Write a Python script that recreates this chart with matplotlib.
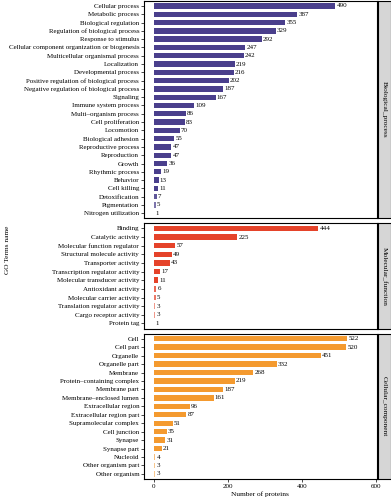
import matplotlib
matplotlib.use('Agg')
import matplotlib.pyplot as plt

plt.rcParams['font.family'] = ['Liberation Serif', 'DejaVu Serif']

# GO 分类数据
bp_terms = ['Cellular process', 'Metabolic process', 'Biological regulation',
            'Regulation of biological process', 'Response to stimulus',
            'Cellular component organization or biogenesis',
            'Multicellular organismal process', 'Localization',
            'Developmental process', 'Positive regulation of biological process',
            'Negative regulation of biological process', 'Signaling',
            'Immune system process', 'Multi\u2013organism process',
            'Cell proliferation', 'Locomotion', 'Biological adhesion',
            'Reproductive process', 'Reproduction', 'Growth', 'Rhythmic process',
            'Behavior', 'Cell killing', 'Detoxification', 'Pigmentation',
            'Nitrogen utilization']
bp_counts = [490, 387, 355, 329, 292, 247, 242, 219, 216, 202, 187, 167,
             109, 86, 83, 70, 55, 47, 47, 36, 19, 13, 11, 7, 5, 1]

mf_terms = ['Binding', 'Catalytic activity', 'Molecular function regulator',
            'Structural molecule activity', 'Transporter activity',
            'Transcription regulator activity', 'Molecular transducer activity',
            'Antioxidant activity', 'Molecular carrier activity',
            'Translation regulator activity', 'Cargo receptor activity',
            'Protein tag']
mf_counts = [444, 225, 57, 49, 43, 17, 11, 6, 5, 3, 3, 1]

cc_terms = ['Cell', 'Cell part', 'Organelle', 'Organelle part', 'Membrane',
            'Protein\u2013containing complex', 'Membrane part',
            'Membrane\u2013enclosed lumen', 'Extracellular region',
            'Extracellular region part', 'Supramolecular complex',
            'Cell junction', 'Synapse', 'Synapse part', 'Nucleoid',
            'Other organism part', 'Other organism']
cc_counts = [522, 520, 451, 332, 268, 219, 187, 161, 96, 87, 51, 35, 31, 21,
             4, 3, 3]

groups = [
    ('Biological_process', bp_terms, bp_counts, '#4a3f8c'),
    ('Molecular_function', mf_terms, mf_counts, '#e5432a'),
    ('Cellular_component', cc_terms, cc_counts, '#f49a2f'),
]

W, H = 391, 500
fig = plt.figure(figsize=(W / 100, H / 100), dpi=100)

left_px, right_px = 144, 376.7
strip_l, strip_r = 378, 390.5
top_px, bottom_px = 1, 479
gap = 5
units = [len(g[1]) + 1.2 for g in groups]
px_per_unit = (bottom_px - top_px - gap * (len(groups) - 1)) / sum(units)

fs = 5.0
y0 = top_px
for (name, terms, counts, color), u in zip(groups, units):
    h = u * px_per_unit
    ax = fig.add_axes([left_px / W, 1 - (y0 + h) / H,
                       (right_px - left_px) / W, h / H])
    pos = list(range(len(terms)))
    alphas = [min(1.0, 0.3 + c / 12) for c in counts]
    for p, c, a in zip(pos, counts, alphas):
        ax.barh(p, c, height=0.64, color=color, alpha=a)
        ax.text(c + 3, p, str(c), va='center', ha='left', fontsize=fs)
    ax.set_ylim(len(terms) - 0.4, -0.6)
    ax.set_xlim(-27, 602)
    ax.set_yticks(pos)
    ax.set_yticklabels(terms, fontsize=fs)
    ax.set_xticks([0, 200, 400, 600])
    ax.tick_params(axis='both', length=2, width=0.5, pad=1.5, labelsize=fs)
    for s in ax.spines.values():
        s.set_linewidth(0.8)
    if name != 'Cellular_component':
        ax.tick_params(axis='x', labelbottom=False, length=0)
    else:
        ax.set_xlabel('Number of proteins', fontsize=fs + 0.3, labelpad=2)

    # 右侧分面标签
    sax = fig.add_axes([strip_l / W, 1 - (y0 + h) / H,
                        (strip_r - strip_l) / W, h / H])
    sax.set_facecolor('#d6d6d6')
    sax.set_xticks([])
    sax.set_yticks([])
    for s in sax.spines.values():
        s.set_linewidth(0.8)
    sax.text(0.5, 0.5, name, rotation=-90, ha='center', va='center',
             fontsize=fs + 0.3, transform=sax.transAxes)
    y0 += h + gap

fig.text(8 / W, 0.5, 'GO Terms name', rotation=90, ha='center', va='center',
         fontsize=fs + 0.3)

fig.savefig('out.png', dpi=100)
